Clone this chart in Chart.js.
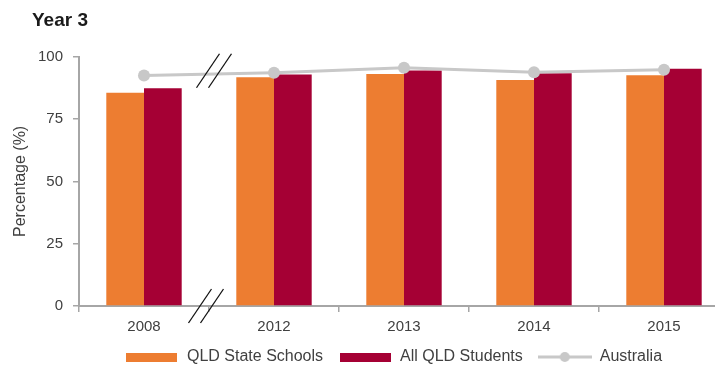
<!DOCTYPE html>
<html><head><meta charset="utf-8">
<script src="https://cdn.jsdelivr.net/npm/chart.js@4"></script>
<style>html,body{margin:0;padding:0;overflow:hidden;background:#fff}#wrap{width:715px;height:367px;overflow:hidden;position:relative}canvas{display:block}</style>
</head><body><div id="wrap"><canvas id="c" width="745" height="367"></canvas></div>
<script>
const categories = ['2008', '2012', '2013', '2014', '2015'];
const qldStateSchools = [85.6, 91.8, 93.1, 90.7, 92.6];
const allQldStudents = [87.4, 92.9, 94.5, 93.4, 95.2];
const australia = [92.5, 93.6, 95.6, 93.8, 94.8];
const yTickValues = [0, 25, 50, 75, 100];
const seriesNames = ['QLD State Schools', 'All QLD Students', 'Australia'];

const ORANGE = '#ED7D31', RED = '#A50034', GREY = '#C8C8C8', TXT = '#404040', AXIS = '#A6A6A6';
const FONT = "'Liberation Sans', Arial, sans-serif";

function boxIcon(color) {
  const c = document.createElement('canvas'); c.width = 51; c.height = 9;
  const g = c.getContext('2d'); g.fillStyle = color; g.fillRect(0, 0, 51, 9); return c;
}
function lineIcon(color) {
  const c = document.createElement('canvas'); c.width = 54; c.height = 12;
  const g = c.getContext('2d'); g.strokeStyle = color; g.lineWidth = 3;
  g.beginPath(); g.moveTo(0, 6); g.lineTo(54, 6); g.stroke();
  g.fillStyle = color; g.beginPath(); g.arc(27, 6, 5, 0, Math.PI * 2); g.fill(); return c;
}
const icons = [boxIcon(ORANGE), boxIcon(RED), lineIcon(GREY)];

const tweakPlugin = {
  id: 'tweak',
  afterLayout(chart) {
    if (chart.titleBlock) { chart.titleBlock.left = 32; }
    if (chart.legend) {
      chart.legend.left += 29; chart.legend.right += 29;
      chart.legend.top -= 8; chart.legend.bottom -= 8;
    }
  },
  afterDatasetsDraw(chart) {
    const xs = chart.scales.x, ys = chart.scales.y, ctx = chart.ctx;
    const bx = xs.getPixelForValue(0.5);
    ctx.save();
    ctx.strokeStyle = '#111'; ctx.lineWidth = 1.3;
    const pair = (cx, cy) => {
      [-6, 6].forEach(d => {
        ctx.beginPath();
        ctx.moveTo(cx + d - 11.5, cy + 17);
        ctx.lineTo(cx + d + 11.5, cy - 17);
        ctx.stroke();
      });
    };
    pair(bx + 5, ys.getPixelForValue(94.4));
    pair(bx - 3, ys.getPixelForValue(0));
    ctx.restore();
  }
};

new Chart(document.getElementById('c'), {
  type: 'bar',
  data: {
    labels: categories,
    datasets: [
      { label: seriesNames[2], type: 'line', data: australia, borderColor: GREY, backgroundColor: GREY,
        borderWidth: 3, pointRadius: 6, pointBackgroundColor: GREY, pointBorderWidth: 0, tension: 0, order: 0 },
      { label: seriesNames[0], data: qldStateSchools, backgroundColor: ORANGE, order: 1,
        categoryPercentage: 0.58, barPercentage: 1.0 },
      { label: seriesNames[1], data: allQldStudents, backgroundColor: RED, order: 1,
        categoryPercentage: 0.58, barPercentage: 1.0 }
    ]
  },
  options: {
    responsive: false, animation: false, devicePixelRatio: 1,
    layout: { padding: { left: 0, right: 16, top: 0, bottom: -16 } },
    plugins: {
      tooltip: { enabled: false },
      title: { display: true, text: 'Year 3', align: 'start', color: '#1a1a1a',
        font: { family: FONT, size: 19, weight: 'bold' }, padding: { top: 9, bottom: 25 } },
      legend: {
        position: 'bottom',
        labels: {
          usePointStyle: true, pointStyleWidth: 54, boxHeight: 9, padding: 15, color: TXT,
          font: { family: FONT, size: 16 },
          sort: (a, b) => {
            const order = [1, 2, 0];
            return order.indexOf(a.datasetIndex) - order.indexOf(b.datasetIndex);
          },
          generateLabels(chart) {
            return chart.data.datasets.map((ds, i) => ({
              text: ds.label, datasetIndex: i, fontColor: TXT, hidden: false,
              pointStyle: icons[seriesNames.indexOf(ds.label)], lineWidth: 0,
              fillStyle: ds.backgroundColor, strokeStyle: ds.backgroundColor
            }));
          }
        }
      }
    },
    scales: {
      x: {
        offset: true,
        grid: { display: true, drawOnChartArea: false, drawTicks: true, tickLength: 6, color: AXIS, lineWidth: 1.5, offset: true },
        border: { display: true, color: AXIS, width: 2 },
        ticks: { color: TXT, font: { family: FONT, size: 15 }, padding: 6, maxRotation: 0 }
      },
      y: {
        min: 0, max: 100,
        afterBuildTicks(scale) { scale.ticks = yTickValues.map(v => ({ value: v })); },
        afterFit(scale) { scale.width = 79; },
        grid: { display: true, drawOnChartArea: false, drawTicks: true, tickLength: 6, color: AXIS, lineWidth: 1.5 },
        border: { display: true, color: AXIS, width: 2 },
        ticks: { color: TXT, font: { family: FONT, size: 15 }, padding: 10 },
        title: { display: true, text: 'Percentage (%)', color: TXT, font: { family: FONT, size: 16 }, padding: { top: 11, bottom: 0 } }
      }
    }
  },
  plugins: [tweakPlugin]
});
</script></body></html>
